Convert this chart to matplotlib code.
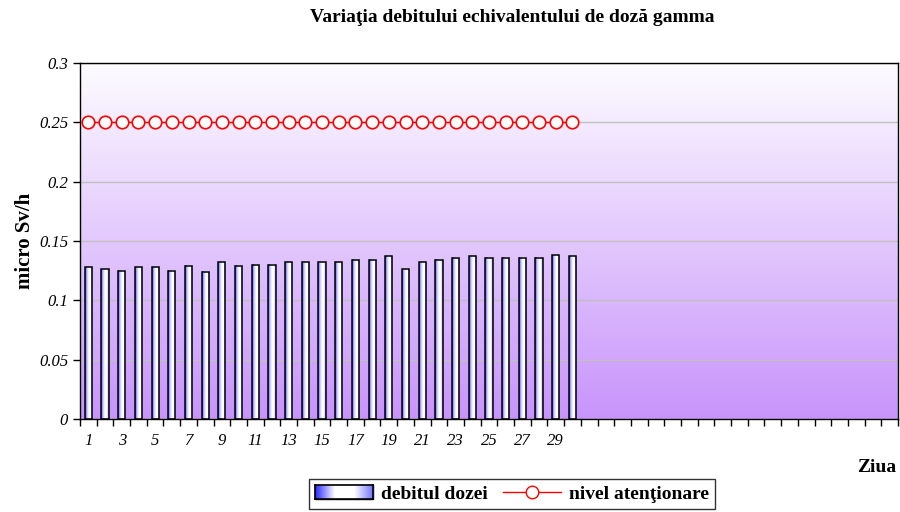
import numpy as np
import matplotlib.pyplot as plt
from matplotlib.colors import LinearSegmentedColormap
from matplotlib.lines import Line2D
from matplotlib.patches import Patch

plt.rcParams['font.family'] = ['Liberation Serif', 'DejaVu Serif']

# --------------------------
# data
# --------------------------
days = np.arange(1, 31)
n_slots = 49  # category axis continues past day 30
doza = [0.128, 0.126, 0.125, 0.128, 0.128, 0.125, 0.129, 0.124, 0.132, 0.129,
        0.130, 0.130, 0.132, 0.132, 0.132, 0.132, 0.134, 0.134, 0.137, 0.126,
        0.132, 0.134, 0.136, 0.137, 0.136, 0.136, 0.136, 0.136, 0.138, 0.137]
nivel = [0.25] * 30
tick_labels = [str(d) for d in range(1, 30, 2)]

fig = plt.figure(figsize=(9, 5.12), dpi=100)
ax = fig.add_axes([80/900, 1 - 419/512, 818/900, 356/512])

xmin, xmax = 0.5, n_slots + 0.5

# plot area gradient (white-ish top -> purple bottom)
bg = LinearSegmentedColormap.from_list('bg', ['#c894fb', '#fdfcff'])
grad = np.linspace(0, 1, 256).reshape(-1, 1)
ax.imshow(grad, cmap=bg, aspect='auto', extent=[xmin, xmax, 0, 0.3],
          origin='lower', zorder=0)

ax.yaxis.grid(True, color='#c0c0c0', lw=1, zorder=1)
ax.set_axisbelow(True)

# bars with horizontal gradient fill
bar_cmap = LinearSegmentedColormap.from_list(
    'bar', ['#3c3cff', '#c0c0ff', '#ffffff', '#ffffff', '#8c8cff'])
hgrad = np.linspace(0, 1, 64).reshape(1, -1)
w = 0.43
bars = ax.bar(days, doza, width=w, color='none', edgecolor='black', lw=1.1, zorder=3)
for b in bars:
    x0, y0 = b.get_x(), b.get_y()
    ax.imshow(hgrad, cmap=bar_cmap, aspect='auto', interpolation='bilinear',
              extent=[x0, x0 + b.get_width(), y0, y0 + b.get_height()], zorder=2)

ax.plot(days, nivel, color='red', lw=1, marker='o', ms=9, mfc='white',
        mec='red', mew=1.2, zorder=4)

ax.set_xlim(xmin, xmax)
ax.set_ylim(0, 0.3)

# ticks
ax.set_xticks(np.arange(1, 30, 2))
ax.set_xticklabels(tick_labels, fontstyle='italic', fontsize=12)
ax.set_xticks(np.arange(0.5, n_slots + 1, 1), minor=True)
ax.tick_params(axis='x', which='major', length=0, pad=10)
ax.tick_params(axis='x', which='minor', length=5, width=1)
ax.set_yticks(np.arange(0, 0.31, 0.05))
ax.set_yticklabels(['0', '0.05', '0.1', '0.15', '0.2', '0.25', '0.3'],
                   fontstyle='italic', fontsize=12)
ax.tick_params(axis='y', length=5, width=1)
for s in ax.spines.values():
    s.set_color('black')
    s.set_linewidth(1)

ax.set_ylabel('micro Sv/h', fontsize=15, fontweight='bold', labelpad=3)
fig.text(512/900, 1 - 18/512, 'Variaţia debitului echivalentului de doză gamma',
         ha='center', va='center', fontsize=14, fontweight='bold')
fig.text(877/900, 1 - 467/512, 'Ziua', ha='center', va='center',
         fontsize=14, fontweight='bold')

handles = [Patch(facecolor='none', edgecolor='black'),
           Line2D([], [], color='red', lw=1, marker='o', ms=9, mfc='white', mec='red')]
leg = fig.legend(handles, ['debitul dozei', 'nivel atenţionare'], loc='center',
                 bbox_to_anchor=(512/900, 1 - 494/512), ncol=2, frameon=True,
                 fancybox=False, prop={'weight': 'bold', 'size': 14},
                 handlelength=3, columnspacing=0.8, handletextpad=0.4,
                 borderpad=0.3)
leg.get_frame().set_edgecolor('black')
leg.get_frame().set_linewidth(1)

# legend patch gradient like the original
fig.canvas.draw()
ph = leg.legend_handles[0]
bb = ph.get_window_extent()
inv = fig.transFigure.inverted()
(fx0, fy0), (fx1, fy1) = inv.transform([[bb.x0, bb.y0], [bb.x1, bb.y1]])
lax = fig.add_axes([fx0, fy0, fx1 - fx0, fy1 - fy0], zorder=10)
lax.imshow(hgrad, cmap=LinearSegmentedColormap.from_list('lg', ['#2a2aff', '#ffffff', '#ffffff', '#7070ff']),
           aspect='auto', extent=[0, 1, 0, 1], interpolation='bilinear')
lax.set_xticks([])
lax.set_yticks([])
for s in lax.spines.values():
    s.set_color('black')
    s.set_linewidth(1.2)

fig.savefig('out.png', dpi=100)
